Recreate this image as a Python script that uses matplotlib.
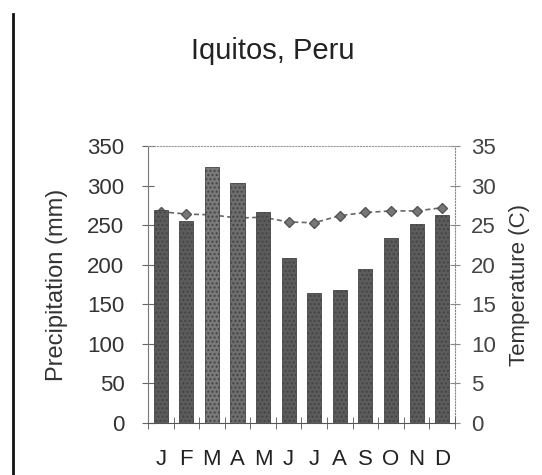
import matplotlib.pyplot as plt
import numpy as np

# data
months = ["J", "F", "M", "A", "M", "J", "J", "A", "S", "O", "N", "D"]
precip_mm = [269, 255, 323, 303, 266, 208, 164, 168, 194, 234, 251, 263]
temp_c = [26.7, 26.4, 26.3, 25.9, 26.0, 25.4, 25.3, 26.2, 26.6, 26.8, 26.8, 27.2]
bar_colors = ["#5c5c5c", "#5c5c5c", "#7a7a7a", "#6e6e6e", "#5c5c5c", "#5c5c5c",
              "#5c5c5c", "#5c5c5c", "#5c5c5c", "#5c5c5c", "#5c5c5c", "#5c5c5c"]

plt.rcParams['font.family'] = ['Liberation Sans', 'DejaVu Sans']

fig = plt.figure(figsize=(5.42, 4.75), dpi=100, facecolor='w')
ax = fig.add_axes([0.273, 0.1095, 0.5665, 0.5831])
x = np.arange(len(months))

ax.bar(x, precip_mm, width=0.55, color=bar_colors, edgecolor='#444444',
       linewidth=0.6, hatch='....', zorder=2)
ax.set_xlim(-0.5, 11.5)
ax.set_ylim(0, 350)
ax.set_yticks(np.arange(0, 351, 50))
ax.set_xticks(x)
ax.set_xticklabels(months, fontsize=16, color='#222222')
ax.set_xticks(np.arange(-0.5, 12, 1), minor=True)
ax.tick_params(axis='x', which='major', length=0, pad=19)
ax.tick_params(axis='x', which='minor', direction='inout', length=8, color='#555555')
ax.tick_params(axis='y', direction='inout', length=8, labelsize=16, pad=13,
               labelcolor='#333333', color='#666666')
ax.set_ylabel("Precipitation (mm)", fontsize=17, color='#333333')
ax.yaxis.set_label_coords(-0.262, 0.5)

ax.spines['top'].set_linestyle(':')
ax.spines['top'].set_color('#999999')
ax.spines['left'].set_color('#777777')
ax.spines['bottom'].set_color('#555555')
ax.spines['right'].set_visible(False)

ax2 = ax.twinx()
ax2.plot(x, temp_c, linestyle=(0, (3, 2)), color='#666666', linewidth=1.2,
         marker='D', markersize=5, markerfacecolor='#777777',
         markeredgecolor='#555555', zorder=1)
ax2.set_ylim(0, 35)
ax2.set_yticks(np.arange(0, 36, 5))
ax2.tick_params(axis='y', direction='inout', length=7, labelsize=16, pad=8,
                labelcolor='#444444', color='#888888')
ax2.set_ylabel("Temperature (C)", fontsize=16, color='#333333')
ax2.yaxis.set_label_coords(1.175, 0.5)
ax2.spines['right'].set_linestyle(':')
ax2.spines['right'].set_color('#888888')
for s in ['top', 'left', 'bottom']:
    ax2.spines[s].set_visible(False)

# bars drawn above the temperature line
ax.set_zorder(ax2.get_zorder() + 1)
ax.patch.set_visible(False)

fig.text(0.504, 0.892, "Iquitos, Peru", ha='center', va='center',
         fontsize=21, color='#222222')

# page border line on the left
fig.add_artist(plt.Line2D([0.024, 0.024], [0.0, 0.97], color='#111111', linewidth=2))

fig.savefig("out.png", dpi=100)
